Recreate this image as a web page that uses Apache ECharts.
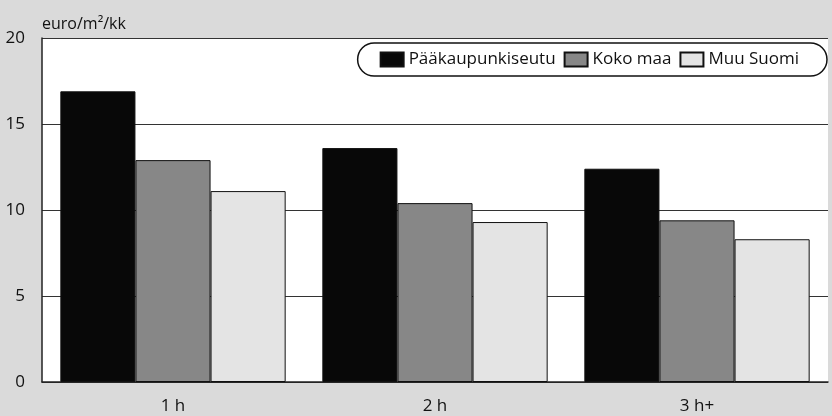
<!DOCTYPE html>
<html>
<head>
<meta charset="utf-8">
<script src="https://cdn.jsdelivr.net/npm/echarts@6/dist/echarts.min.js"></script>
<style>
html,body{margin:0;padding:0;background:#dadada;}
#c{width:832px;height:416px;}
</style>
</head>
<body>
<div id="c"></div>
<script>
const categories = ['1 h', '2 h', '3 h+'];
const seriesNames = ['Pääkaupunkiseutu', 'Koko maa', 'Muu Suomi'];
const paakaupunkiseutu = [16.9, 13.6, 12.4];
const kokoMaa = [12.9, 10.4, 9.4];
const muuSuomi = [11.1, 9.3, 8.3];
const yTicks = [0, 5, 10, 15, 20];
const unitLabel = 'euro/m²/kk';

const colors = ['#080808', '#878787', '#e4e4e4'];
const values = [paakaupunkiseutu, kokoMaa, muuSuomi];
const font = "'Open Sans', sans-serif";

const chart = echarts.init(document.getElementById('c'));
chart.setOption({
  backgroundColor: '#dadada',
  animation: false,
  textStyle: { fontFamily: font },
  grid: { left: 42, right: 4, top: 38, bottom: 34, show: true, backgroundColor: '#ffffff', borderWidth: 0 },
  legend: {
    data: seriesNames,
    right: 5,
    top: 43,
    padding: [8, 28, 8, 22],
    itemWidth: 23,
    itemHeight: 14,
    itemGap: 8,
    backgroundColor: '#ffffff',
    borderColor: '#111',
    borderWidth: 1.5,
    borderRadius: 17,
    textStyle: { fontSize: 17, color: '#111', fontFamily: font },
    icon: 'rect'
  },
  xAxis: {
    type: 'category',
    data: categories,
    axisTick: { show: false },
    axisLine: { lineStyle: { color: '#222', width: 1.5 } },
    axisLabel: { fontSize: 17, color: '#111', margin: 16 }
  },
  yAxis: {
    type: 'value',
    min: yTicks[0],
    max: yTicks[yTicks.length - 1],
    interval: 5,
    name: unitLabel,
    nameLocation: 'end',
    nameGap: 6,
    nameTextStyle: { fontSize: 16, color: '#111', align: 'left' },
    axisLine: { show: true, lineStyle: { color: '#222', width: 1.5 } },
    axisTick: { show: false },
    axisLabel: { fontSize: 17, color: '#111', margin: 17 },
    splitLine: { lineStyle: { color: '#333', width: 1 } }
  },
  series: seriesNames.map((n, i) => ({
    name: n,
    type: 'bar',
    data: values[i],
    barGap: '0%',
    barCategoryGap: '14%',
    itemStyle: { color: colors[i], borderColor: '#111', borderWidth: 1 }
  }))
});
</script>
</body>
</html>
